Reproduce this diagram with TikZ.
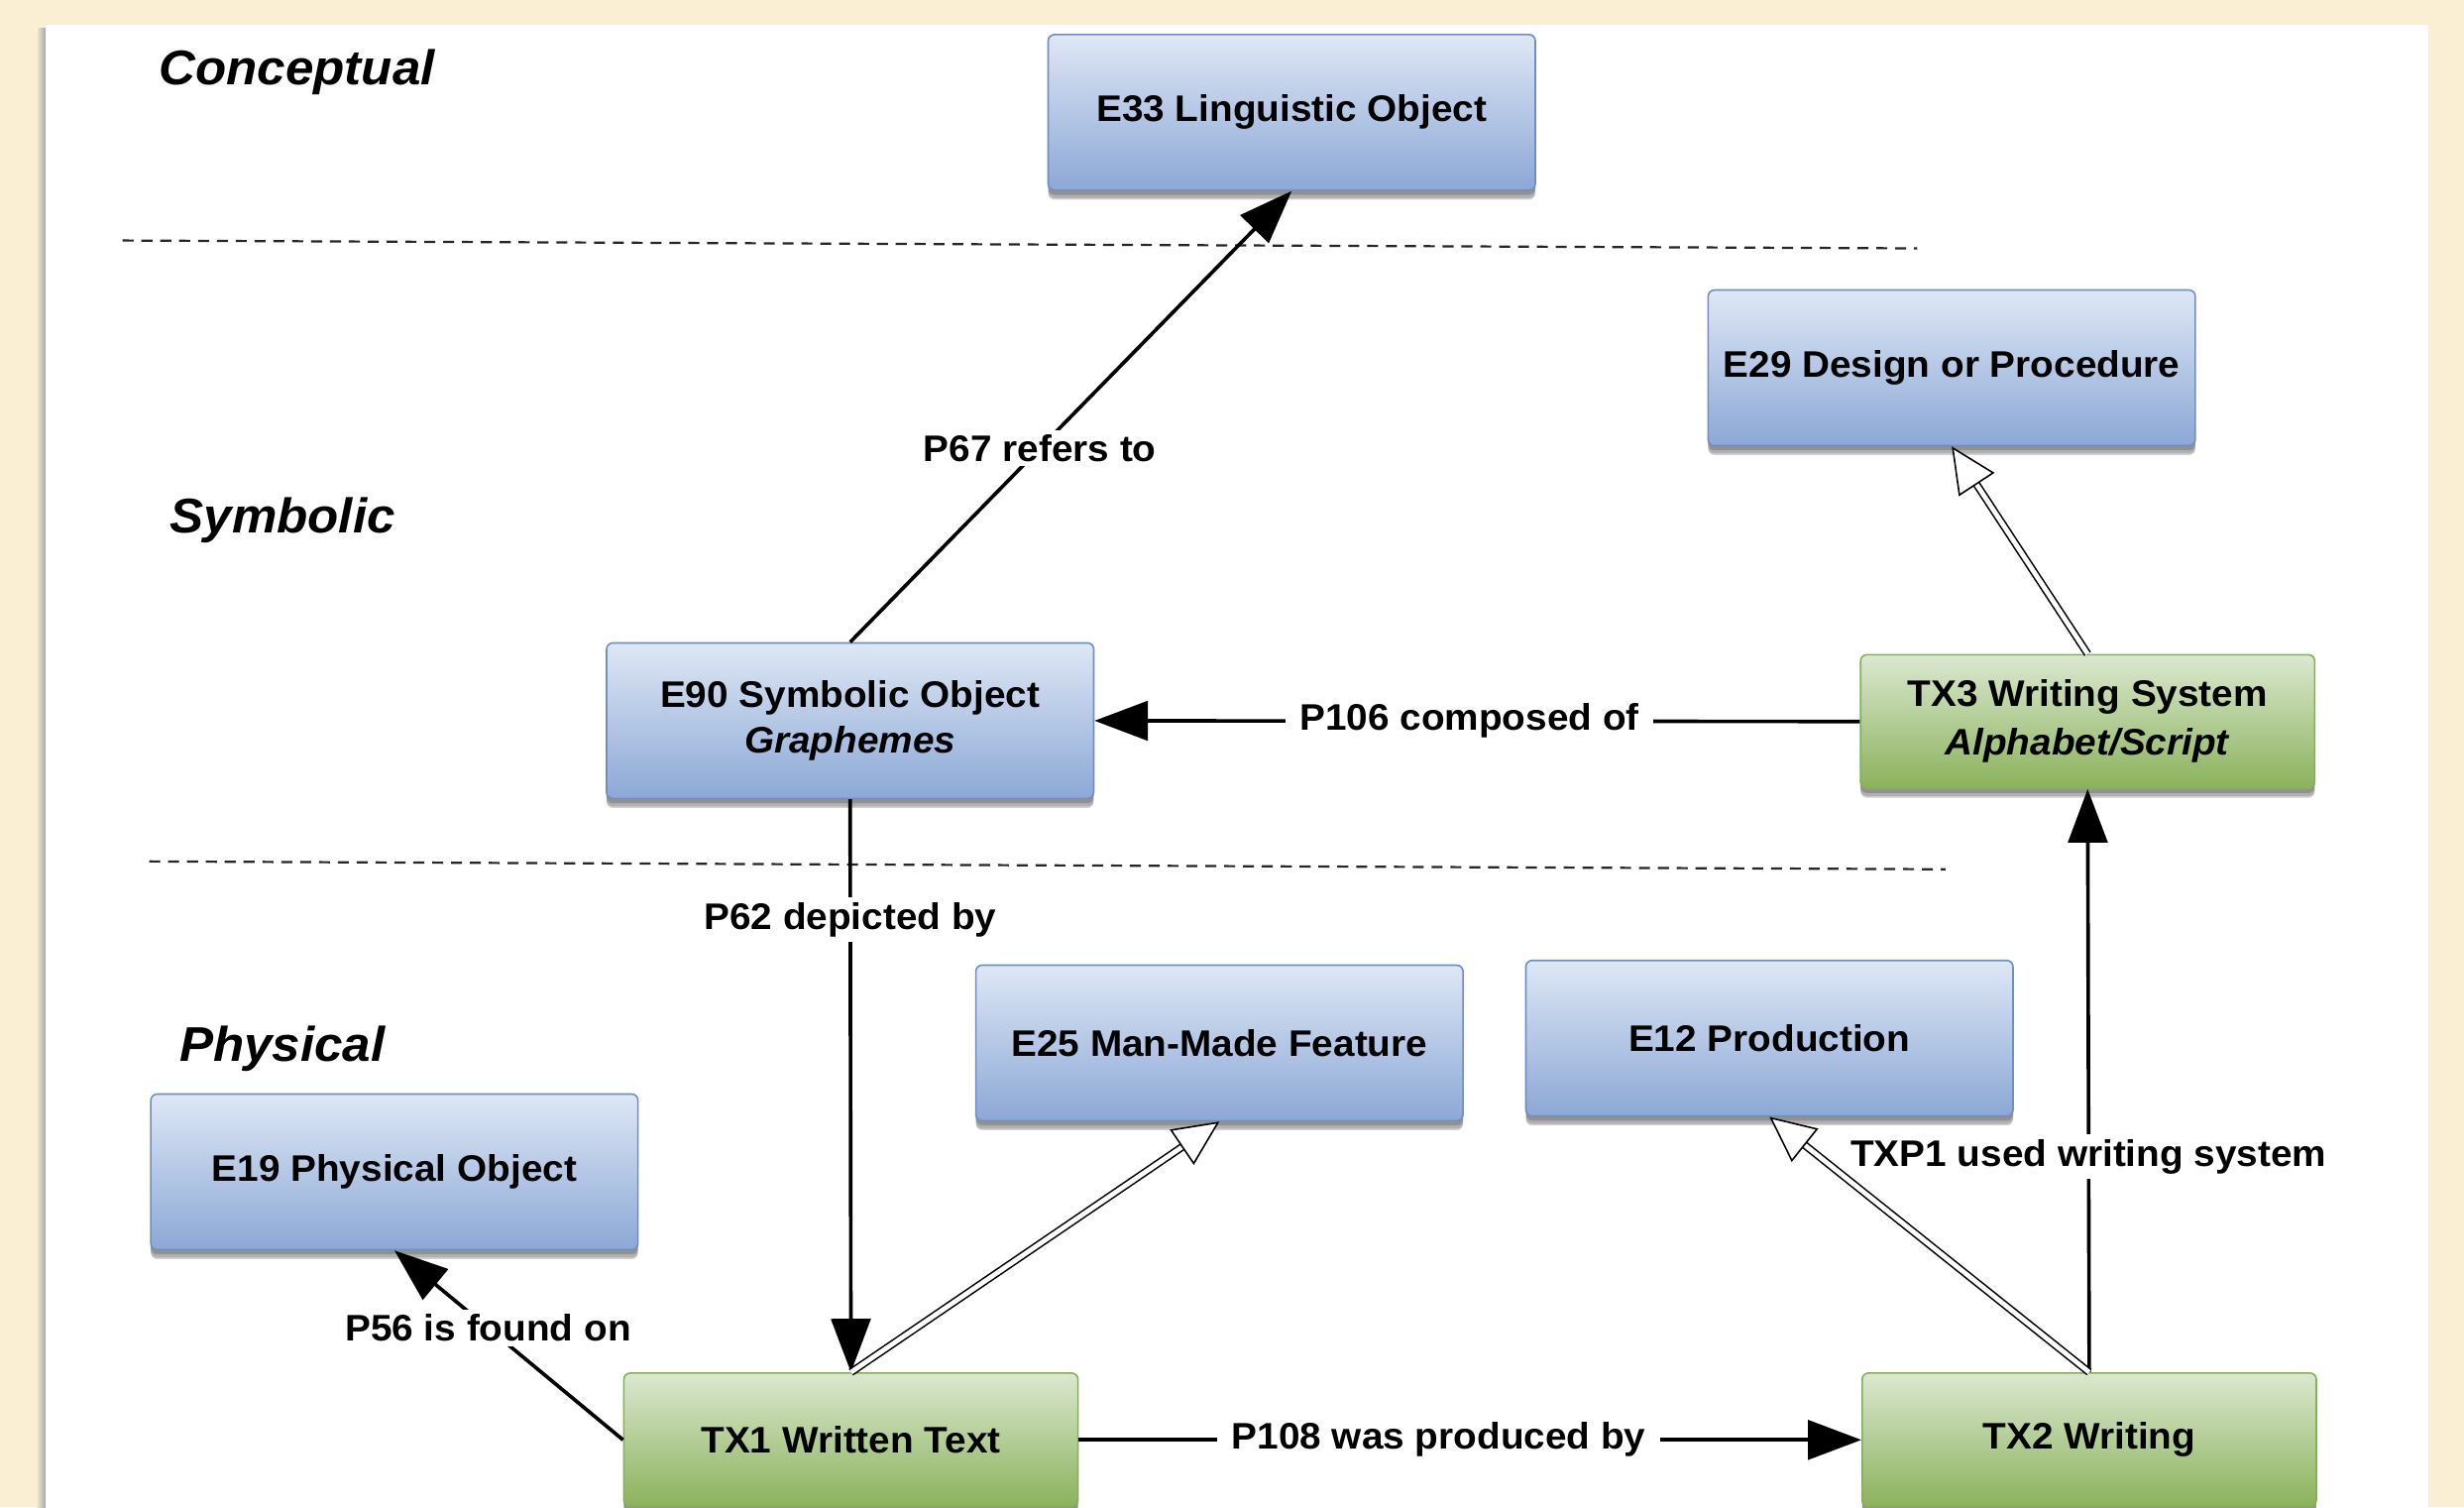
\documentclass[tikz,border=0pt]{standalone}
\usepackage{fontspec}
\setmainfont{Liberation Sans}[FakeStretch=1.04]
\usetikzlibrary{arrows.meta,shadows,calc}
\definecolor{cream}{RGB}{250,239,210}
\definecolor{bluetop}{RGB}{222,231,245}
\definecolor{bluebot}{RGB}{140,168,214}
\definecolor{blueedge}{RGB}{112,142,196}
\definecolor{greentop}{RGB}{219,232,208}
\definecolor{greenbot}{RGB}{139,178,92}
\definecolor{greenedge}{RGB}{132,176,88}
\newcommand\nodefont{\fontsize{23.5}{29}\selectfont\bfseries}
\newcommand\layerfont{\fontsize{31}{35}\selectfont\bfseries\itshape}
\tikzset{
  boxbase/.style={rectangle, rounded corners=4pt, line width=1pt, align=center,
    font=\nodefont,
    double copy shadow={shadow xshift=0pt, shadow yshift=-3pt, opacity=0.18, fill=black, draw=none},
    drop shadow={shadow xshift=0pt, shadow yshift=-5pt, opacity=0.15, fill=black}},
  bluebox/.style={boxbase, draw=blueedge, top color=bluetop, bottom color=bluebot,
    minimum width=310pt, minimum height=99pt},
  greenbox/.style={boxbase, draw=greenedge, top color=greentop, bottom color=greenbot,
    minimum width=289pt, minimum height=85pt},
  layer/.style={anchor=west, inner sep=0pt, font=\layerfont},
  lbl/.style={fill=white, inner xsep=9pt, inner ysep=3pt, font=\nodefont},
  solidarrow/.style={line width=2.3pt, -{Triangle[length=34pt,width=25pt]}},
  hollowshaft/.style={line width=1pt, double=white, double distance=3pt, shorten >=27pt},
  hollowtip/.style={line width=1pt, -{Triangle[open,fill=white,length=29pt,width=27pt]}},
  layerline/.style={line width=1.4pt, black!85, dash pattern=on 7pt off 5pt}
}
\begin{document}
\begin{tikzpicture}[x=1pt,y=-1pt]
\useasboundingbox (0,0) rectangle (1568,959);
\fill[cream] (0,0) rectangle (1568,959);
\shade[left color=cream, right color=black!35] (23,18) rectangle (29,975);
\fill[white] (29,16) rectangle (1545,975);

% layer titles
\node[layer] (conc) at (101,46) {Conceptual};
\node[layer] (symb) at (108,331) {Symbolic};
\node[layer] (phys) at (114,667) {Physical};

% dashed separators
\coordinate (d1a) at (78,153);
\coordinate (d1b) at (1220,158);
\coordinate (d2a) at (95,548);
\coordinate (d2b) at (1238,553);
\draw[layerline] (d1a) -- (d1b);
\draw[layerline] (d2a) -- (d2b);

% nodes
\node[bluebox] (e33) at (822,71.5) {E33 Linguistic Object};
\node[bluebox] (e29) at (1242,234) {E29 Design or Procedure};
\node[bluebox] (e90) at (541,458.5) {E90 Symbolic Object\\\textit{Graphemes}};
\node[greenbox, font=\fontsize{23.5}{31}\selectfont\bfseries] (tx3) at (1328.5,459) {TX3 Writing System\\\textit{Alphabet/Script}};
\node[bluebox] (e25) at (776,663.5) {E25 Man-Made Feature};
\node[bluebox] (e12) at (1126,660.5) {E12 Production};
\node[bluebox] (e19) at (251,745.5) {E19 Physical Object};
\node[greenbox] (tx1) at (541.5,916) {TX1 Written Text};
\node[greenbox] (tx2) at (1329.5,916) {TX2 Writing};

% solid connectors with labels
\draw[solidarrow] (e90.north) -- node[lbl, pos=0.43] {P67 refers to} (e33.south);
\draw[solidarrow] (tx3.west) -- node[lbl, pos=0.51] {P106 composed of} (e90.east);
\draw[solidarrow] (e90.south) -- node[lbl, pos=0.21] {P62 depicted by} (tx1.north);
\draw[solidarrow] (tx1.west) -- node[lbl, pos=0.59] {P56 is found on} (e19.south);
\draw[solidarrow] (tx1.east) -- node[lbl, pos=0.46] {P108 was produced by} (tx2.west);
\draw[solidarrow] (tx2.north) -- node[lbl, pos=0.37] {TXP1 used writing system} (tx3.south);

% hollow (specialisation) connectors
\draw[hollowshaft] (tx1.north) -- (e25.south);
\draw[hollowtip] ($(e25.south)!27pt!(tx1.north)$) -- (e25.south);
\draw[hollowshaft] (tx2.north) -- (e12.south);
\draw[hollowtip] ($(e12.south)!27pt!(tx2.north)$) -- (e12.south);
\draw[hollowshaft] (tx3.north) -- (e29.south);
\draw[hollowtip] ($(e29.south)!27pt!(tx3.north)$) -- (e29.south);
\end{tikzpicture}
\end{document}
